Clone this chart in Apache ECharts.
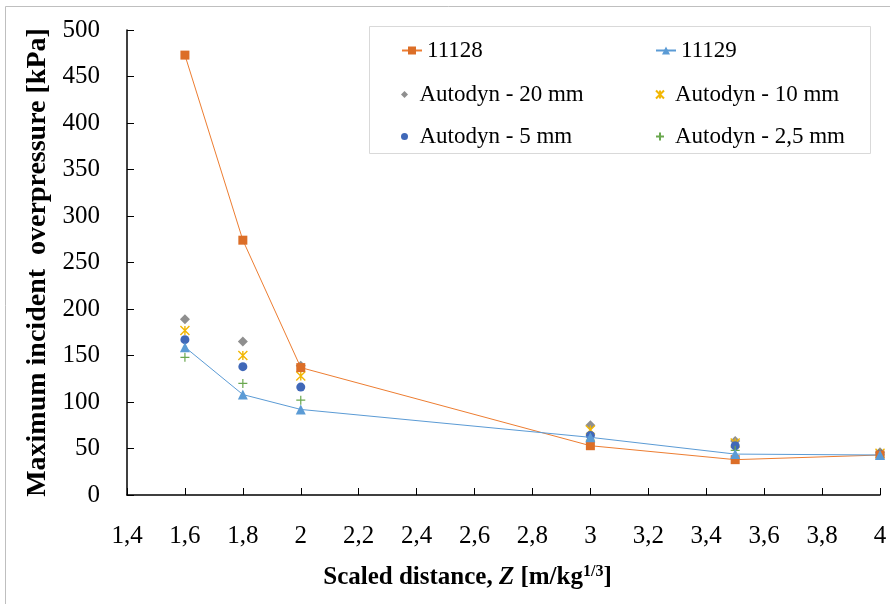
<!DOCTYPE html>
<html><head><meta charset="utf-8">
<script src="https://cdn.jsdelivr.net/npm/echarts@6/dist/echarts.min.js"></script>
<style>html,body{margin:0;padding:0;background:#fff}#c{width:890px;height:604px}</style>
</head><body><div id="c"></div>
<script>
const zValues = [1.6, 1.8, 2, 3, 3.5, 4];
const exp11128 = [473, 274, 137, 53, 38, 43];
const exp11129 = [159, 108, 92, 62, 44, 43];
const autodyn20 = [189, 165, 139, 75, 58, 46];
const autodyn10 = [177, 150, 128, 70, 56, 45];
const autodyn5 = [167, 138, 116, 64, 53, 44];
const autodyn25 = [148, 120, 102, 59, 48, 43];
const xTicks = [1.4, 4, 0.2];
const yTicks = [0, 500, 50];

const pts = arr => zValues.map((z, i) => [z, arr[i]]);
const F = 'Liberation Serif';
const fmtComma = v => String(+(+v).toFixed(1)).replace('.', ',');
const legText = { fontFamily: F, fontSize: 23, color: '#000' };
const DIAMOND = 'path://M5,0L10,5L5,10L0,5Z';
const STAR = 'path://M0,0L10,10M10,0L0,10M5,0L5,10';
const PLUS = 'path://M5,0L5,10M0,5L10,5';

const chart = echarts.init(document.getElementById('c'));
chart.setOption({
  animation: false,
  backgroundColor: '#fff',
  grid: { left: 127, right: 10, top: 30, bottom: 109 },
  xAxis: {
    type: 'value', min: xTicks[0], max: xTicks[1], interval: xTicks[2],
    splitLine: { show: false },
    axisLine: { lineStyle: { color: '#000', width: 1.5 } },
    axisTick: { inside: true, length: 7, lineStyle: { color: '#000', width: 1 } },
    axisLabel: { fontFamily: F, fontSize: 25, color: '#000', margin: 29, formatter: fmtComma },
    name: '{b|Scaled distance, }{i|Z}{b| [m/kg}{s|1/3}{b|]}',
    nameLocation: 'middle', nameGap: 69,
    nameTextStyle: {
      padding: [0, 72, 0, 0],
      rich: {
        b: { fontFamily: F, fontSize: 25, fontWeight: 'bold', color: '#000' },
        i: { fontFamily: F, fontSize: 25, fontWeight: 'bold', fontStyle: 'italic', color: '#000' },
        s: { fontFamily: F, fontSize: 16, fontWeight: 'bold', color: '#000', verticalAlign: 'top', padding: [0, 0, 12, 0] }
      }
    }
  },
  yAxis: {
    type: 'value', min: yTicks[0], max: yTicks[1], interval: yTicks[2],
    splitLine: { show: false },
    axisLine: { show: true, lineStyle: { color: '#000', width: 1.5 } },
    axisTick: { show: true, inside: true, length: 7, lineStyle: { color: '#000', width: 1 } },
    axisLabel: { fontFamily: F, fontSize: 25, color: '#000', margin: 27 },
    name: 'Maximum incident  overpressure [kPa]',
    nameLocation: 'middle', nameRotate: 90, nameGap: 74,
    nameTextStyle: { fontFamily: F, fontSize: 28, fontWeight: 'bold', color: '#000' }
  },
  legend: [
    { left: 396, top: 34, itemWidth: 20, itemHeight: 10, textStyle: legText, data: ['11128'] },
    { left: 650, top: 34, itemWidth: 20, itemHeight: 10, textStyle: legText, data: ['11129'] },
    { orient: 'vertical', left: 396, top: 78, itemGap: 19, itemWidth: 20, itemHeight: 7, textStyle: legText,
      data: [{ name: 'Autodyn - 20 mm', icon: DIAMOND }, { name: 'Autodyn - 5 mm', icon: 'circle' }] },
    { orient: 'vertical', left: 650, top: 78, itemGap: 19, itemWidth: 20, itemHeight: 8, textStyle: legText,
      data: [{ name: 'Autodyn - 10 mm', icon: STAR }, { name: 'Autodyn - 2,5 mm', icon: PLUS }] }
  ],
  graphic: [
    { type: 'rect', shape: { x: 5.5, y: 6.5, width: 1000, height: 1000 }, style: { fill: 'none', stroke: '#bfbfbf', lineWidth: 1 }, silent: true },
    { type: 'rect', shape: { x: 369.5, y: 26.5, width: 501, height: 127 }, style: { fill: 'none', stroke: '#d9d9d9', lineWidth: 1 }, silent: true }
  ],
  series: [
    { name: '11128', type: 'line', data: pts(exp11128), symbol: 'rect', symbolSize: 9,
      lineStyle: { color: '#ED7D31', width: 1 }, itemStyle: { color: '#DC6E27' }, z: 3 },
    { name: '11129', type: 'line', data: pts(exp11129), symbol: 'triangle', symbolSize: 10,
      lineStyle: { color: '#5B9BD5', width: 1 }, itemStyle: { color: '#5B9BD5' }, z: 3 },
    { name: 'Autodyn - 20 mm', type: 'scatter', data: pts(autodyn20), symbol: DIAMOND, symbolSize: 10,
      itemStyle: { color: '#8F8F8F', opacity: 1 } },
    { name: 'Autodyn - 10 mm', type: 'scatter', data: pts(autodyn10), symbol: STAR, symbolSize: 9,
      itemStyle: { color: 'rgba(0,0,0,0)', borderColor: '#F2B705', borderWidth: 1.4, opacity: 1 } },
    { name: 'Autodyn - 5 mm', type: 'scatter', data: pts(autodyn5), symbol: 'circle', symbolSize: 9,
      itemStyle: { color: '#4068B8', opacity: 1 } },
    { name: 'Autodyn - 2,5 mm', type: 'scatter', data: pts(autodyn25), symbol: PLUS, symbolSize: 9,
      itemStyle: { color: 'rgba(0,0,0,0)', borderColor: '#6AA84F', borderWidth: 1.2, opacity: 1 } }
  ]
});
</script></body></html>
